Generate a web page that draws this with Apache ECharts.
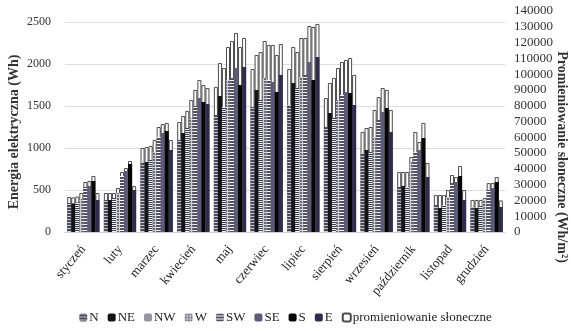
<!DOCTYPE html>
<html>
<head>
<meta charset="utf-8">
<script src="https://cdn.jsdelivr.net/npm/echarts@6/dist/echarts.min.js"></script>
<style>
  html, body { margin: 0; padding: 0; background: #fff; }
  #chart { width: 571px; height: 331px; }
</style>
</head>
<body>
<div id="chart"></div>
<script>
// Months
const months = ['styczeń', 'luty', 'marzec', 'kwiecień', 'maj', 'czerwiec', 'lipiec',
  'sierpień', 'wrzesień', 'październik', 'listopad', 'grudzień'];

// Electrical energy per orientation (Wh)
const energyN  = [345, 381, 833, 1095, 1393, 1488, 1512, 1250, 940, 536, 321, 298];
const energyNE = [340, 381, 833, 1179, 1619, 1690, 1774, 1417, 976, 548, 286, 286];
const energyNW = [350, 405, 857, 1238, 1488, 1571, 1714, 1357, 952, 536, 321, 310];
const energyW  = [393, 464, 952, 1357, 1810, 1833, 1845, 1571, 1131, 833, 417, 381];
const energySW = [536, 667, 1131, 1500, 1833, 1810, 1869, 1631, 1333, 952, 583, 500];
const energySE = [548, 726, 1179, 1595, 1952, 1786, 2024, 1667, 1429, 976, 595, 524];
const energyS  = [607, 810, 1202, 1548, 1750, 1667, 1810, 1655, 1476, 1119, 667, 595];
const energyE  = [381, 500, 976, 1524, 1964, 1869, 2083, 1512, 1190, 655, 381, 298];

// Solar irradiation on the module plane per orientation (Wh/m2)
const solarN  = [22200, 24700, 53200, 69700, 91900, 103300, 103300, 84900, 63400, 38000, 23400, 20300];
const solarNE = [21900, 24700, 53800, 73500, 107100, 112100, 117200, 94400, 65900, 38000, 23400, 20300];
const solarNW = [22400, 24700, 54500, 76700, 103900, 114000, 114000, 97600, 66500, 38000, 23400, 20300];
const solarW  = [24700, 27900, 58300, 83600, 117200, 121000, 122900, 103900, 77300, 47500, 26600, 21500];
const solarSW = [31700, 38000, 66500, 90000, 121000, 118500, 122900, 107700, 85500, 63400, 36100, 31000];
const solarSE = [32300, 40500, 68400, 96300, 126100, 118500, 130500, 109000, 91200, 57000, 34800, 31000];
const solarS  = [35500, 45000, 69100, 93100, 117200, 112100, 129900, 110200, 90000, 69100, 41800, 34800];
const solarE  = [24700, 29100, 58300, 91200, 122900, 119100, 131800, 99500, 77300, 43700, 26600, 20000];

const orientations = ['N', 'NE', 'NW', 'W', 'SW', 'SE', 'S', 'E'];
const energySets = [energyN, energyNE, energyNW, energyW, energySW, energySE, energyS, energyE];
const solarSets = [solarN, solarNE, solarNW, solarW, solarSW, solarSE, solarS, solarE];
const solarName = 'promieniowanie słoneczne';

// Small repeating fills for the hatched bars
function pattern(w, h, draw) {
  const c = document.createElement('canvas');
  c.width = w; c.height = h;
  draw(c.getContext('2d'));
  return { image: c, repeat: 'repeat' };
}
function hLines(bg, fg, period, thick) {
  return pattern(4, period, ctx => {
    ctx.fillStyle = bg; ctx.fillRect(0, 0, 4, period);
    ctx.fillStyle = fg; ctx.fillRect(0, 0, 4, thick);
  });
}
function dots(bg, fg) {
  return pattern(3, 3, ctx => {
    ctx.fillStyle = bg; ctx.fillRect(0, 0, 3, 3);
    ctx.fillStyle = fg; ctx.fillRect(0, 0, 2, 2);
  });
}

const fills = [
  hLines('#4a4a5e', '#c8c8d0', 3, 1),   // N
  '#141418',                            // NE
  hLines('#f2f2f2', '#3a3a50', 2, 1),   // NW
  dots('#d0d0d6', '#6a6a78'),           // W
  hLines('#ffffff', '#505064', 3, 2),   // SW
  '#5c5c78',                            // SE
  '#050505',                            // S
  '#2e2e4c'                             // E
];

const serif = '"Liberation Serif", "DejaVu Serif", serif';
const plain = v => String(v);

const series = [];
// Irradiation bars sit behind the energy bars on their own (hidden) category axis
solarSets.forEach(arr => {
  series.push({
    name: solarName,
    type: 'bar',
    xAxisIndex: 1,
    yAxisIndex: 1,
    data: arr,
    barGap: '0%',
    barCategoryGap: '12%',
    itemStyle: { color: '#ffffff', borderColor: '#4a4a4a', borderWidth: 1 },
    emphasis: { disabled: true }
  });
});
energySets.forEach((arr, i) => {
  series.push({
    name: orientations[i],
    type: 'bar',
    xAxisIndex: 0,
    yAxisIndex: 0,
    data: arr,
    barGap: '0%',
    barCategoryGap: '12%',
    itemStyle: { color: fills[i] },
    emphasis: { disabled: true }
  });
});

const chart = echarts.init(document.getElementById('chart'), null, { renderer: 'canvas' });
chart.setOption({
  animation: false,
  backgroundColor: '#ffffff',
  grid: { left: 65, right: 66, top: 11, bottom: 99 },
  legend: {
    data: orientations.concat([solarName]),
    bottom: 2,
    left: 'center',
    itemWidth: 8,
    itemHeight: 8,
    itemGap: 9,
    textStyle: { fontFamily: serif, fontSize: 13, color: '#222', padding: [0, 0, 0, -3] },
    selectedMode: false
  },
  xAxis: [
    {
      type: 'category',
      data: months,
      axisLine: { show: true, lineStyle: { color: '#d0d0d0' } },
      axisTick: { show: false },
      axisLabel: { rotate: 50, fontFamily: serif, fontSize: 13, color: '#222', margin: 15 }
    },
    { type: 'category', data: months, show: false }
  ],
  yAxis: [
    {
      type: 'value',
      min: 0,
      max: 2631,
      interval: 500,
      axisLine: { show: false },
      axisTick: { show: false },
      axisLabel: { showMaxLabel: false, formatter: plain, fontFamily: serif, fontSize: 12, color: '#333', margin: 14 },
      splitLine: { show: true, showMaxLine: false, lineStyle: { color: '#dcdcdc', width: 1 } }
    },
    {
      type: 'value',
      min: 0,
      max: 140000,
      interval: 10000,
      position: 'right',
      axisLine: { show: false },
      axisTick: { show: false },
      axisLabel: { formatter: plain, fontFamily: serif, fontSize: 13, color: '#333', margin: 9 },
      splitLine: { show: false }
    }
  ],
  graphic: [
    {
      type: 'text',
      x: 14, y: 132,
      rotation: Math.PI / 2,
      style: {
        text: 'Energia elektryczna (Wh)',
        font: 'bold 14px ' + serif,
        fill: '#333',
        align: 'center',
        verticalAlign: 'middle'
      }
    },
    {
      type: 'text',
      x: 562, y: 157,
      rotation: -Math.PI / 2,
      style: {
        text: 'Promieniowanie słoneczne (Wh/m²)',
        font: 'bold 14px ' + serif,
        fill: '#333',
        align: 'center',
        verticalAlign: 'middle'
      }
    }
  ],
  series: series
});
</script>
</body>
</html>
